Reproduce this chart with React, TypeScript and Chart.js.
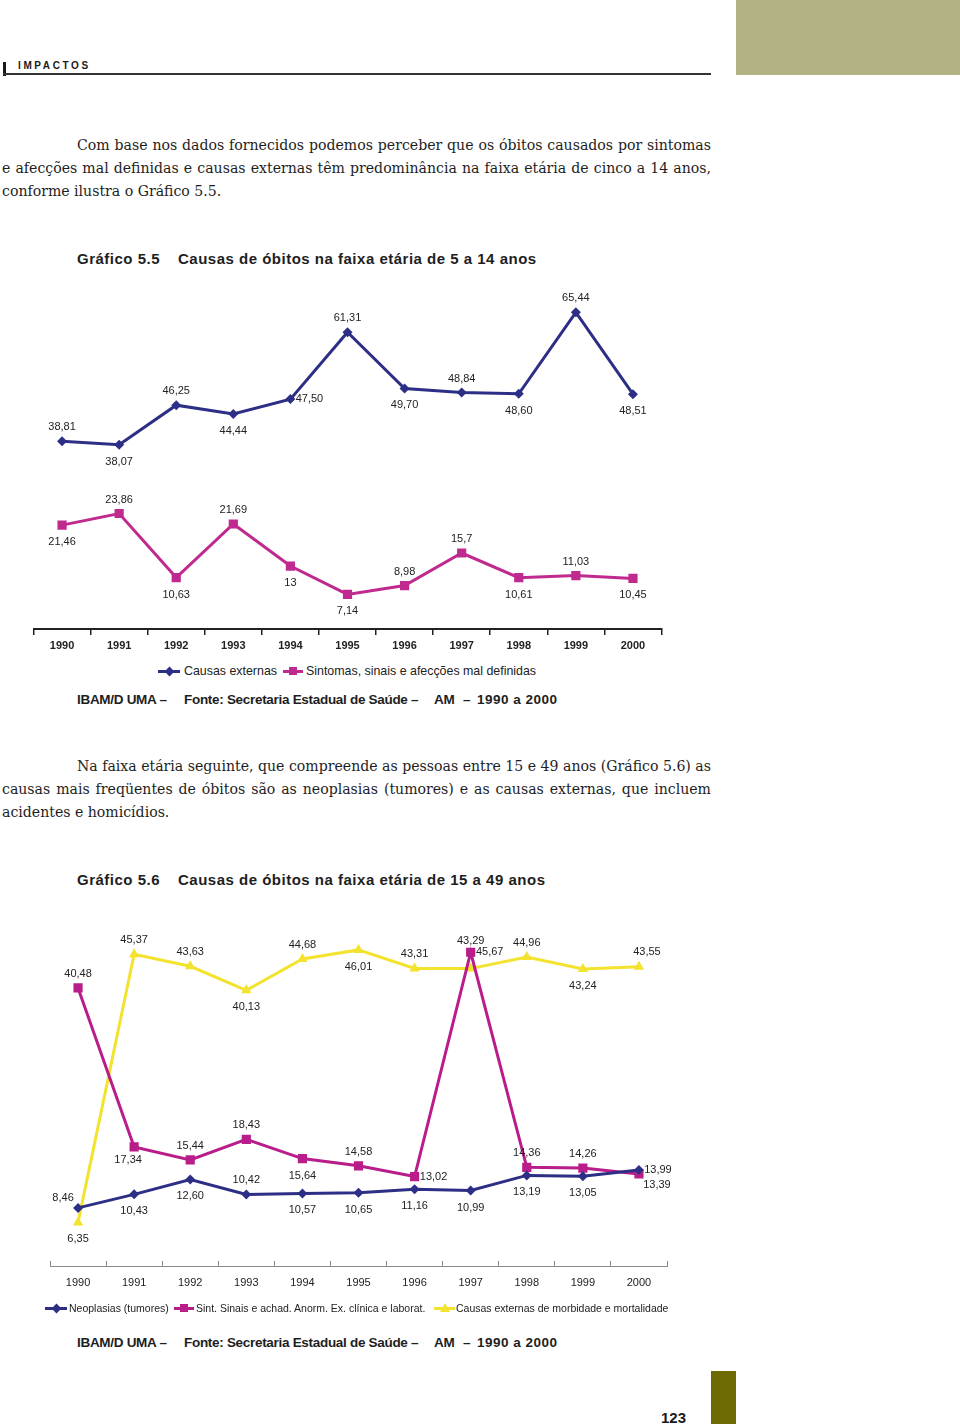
import React, { useEffect, useRef } from 'react';
import { Chart, registerables } from 'chart.js';

Chart.register(...registerables);

// ---------- data ----------
const years = ['1990', '1991', '1992', '1993', '1994', '1995', '1996', '1997', '1998', '1999', '2000'];

// Gráfico 5.5 (5 a 14 anos)
const g55Externas = ['38,81', '38,07', '46,25', '44,44', '47,50', '61,31', '49,70', '48,84', '48,60', '65,44', '48,51'];
const g55Sintomas = ['21,46', '23,86', '10,63', '21,69', '13', '7,14', '8,98', '15,7', '10,61', '11,03', '10,45'];

// Gráfico 5.6 (15 a 49 anos)
const g56Neoplasias = ['8,46', '10,43', '12,60', '10,42', '10,57', '10,65', '11,16', '10,99', '13,19', '13,05', '13,99'];
const g56Sintomas = ['40,48', '17,34', '15,44', '18,43', '15,64', '14,58', '13,02', '45,67', '14,36', '14,26', '13,39'];
const g56Externas = ['6,35', '45,37', '43,63', '40,13', '44,68', '46,01', '43,31', '43,29', '44,96', '43,24', '43,55'];

// label placement codes (style only)
const g55ExternasPos = ['a', 'b', 'a', 'b', 'r', 'a', 'b', 'a', 'b', 'a', 'b'];
const g55SintomasPos = ['b', 'a', 'b', 'a', 'b', 'b', 'a', 'a', 'b', 'a', 'b'];
const g56NeoplasiasPos = ['l', 'b', 'b', 'a', 'b', 'b', 'b', 'b', 'b', 'b', 'r'];
const g56SintomasPos = ['a', 'bl', 'a', 'a', 'b', 'a', 'r', 'r', 'a', 'a', 'rb'];
const g56ExternasPos = ['b', 'a', 'a', 'b', 'a', 'b', 'a', 'aa', 'a', 'b', 'ar'];

const OFFS: Record<string, [number, number]> = {
  a: [0, -14],
  b: [0, 17],
  r: [19, 0],
  l: [-15, -10],
  aa: [0, -28],
  rb: [18, 11],
  bl: [-6, 13],
  ar: [8, -15],
};

const NAVY = '#2d2f86';
const MAGENTA1 = '#c02a8e';
const MAGENTA2 = '#b81d8a';
const YELLOW = '#f3e22e';
const SANS = '"Liberation Sans", Arial, sans-serif';
const SERIF = '"DejaVu Serif", "Liberation Serif", serif';

const num = (s: string) => parseFloat(s.replace(',', '.'));

const labelPlugin = {
  id: 'pointLabels',
  afterDatasetsDraw(chart: any) {
    const ctx = chart.ctx;
    ctx.save();
    ctx.font = '11px ' + SANS;
    ctx.fillStyle = '#222';
    ctx.textAlign = 'center';
    ctx.textBaseline = 'middle';
    chart.data.datasets.forEach((ds: any, di: number) => {
      const meta = chart.getDatasetMeta(di);
      meta.data.forEach((pt: any, i: number) => {
        const [dx, dy] = OFFS[ds.labelPos[i]];
        ctx.fillText(ds.labelText[i], pt.x + dx, pt.y + dy);
      });
    });
    ctx.restore();
  },
};

function Legend({ items, top, size }: { items: { x: number; tx: number; w: number; color: string; shape: string; text: string }[]; top: number; size: number }) {
  return (
    <>
      {items.map((it, i) => (
        <React.Fragment key={i}>
          <div style={{ position: 'absolute', left: it.x, top: top - 1.5, width: it.w, height: 3, background: it.color }} />
          {it.shape === 'diamond' && (
            <div style={{ position: 'absolute', left: it.x + it.w / 2 - 3.5, top: top - 3.5, width: 7, height: 7, background: it.color, transform: 'rotate(45deg)' }} />
          )}
          {it.shape === 'square' && (
            <div style={{ position: 'absolute', left: it.x + it.w / 2 - 4, top: top - 4, width: 8, height: 8, background: it.color }} />
          )}
          {it.shape === 'triangle' && (
            <div style={{ position: 'absolute', left: it.x + it.w / 2 - 5, top: top - 5, width: 0, height: 0, borderLeft: '5px solid transparent', borderRight: '5px solid transparent', borderBottom: '9px solid ' + it.color }} />
          )}
          <div style={{ position: 'absolute', left: it.tx, top: top - 8, lineHeight: '16px', fontFamily: SANS, fontSize: size, color: '#222', whiteSpace: 'nowrap' }}>{it.text}</div>
        </React.Fragment>
      ))}
    </>
  );
}

function JLine({ left, top, width, text, last }: { left: number; top: number; width: number; text: string; last?: boolean }) {
  return (
    <div
      style={{
        position: 'absolute',
        left,
        top,
        width,
        fontFamily: SERIF,
        fontSize: 14.1,
        lineHeight: '23px',
        color: '#1e1e1e',
        whiteSpace: 'nowrap',
        textAlign: last ? 'left' : 'justify',
        textAlignLast: last ? 'left' : 'justify',
      } as any}
    >
      {text}
    </div>
  );
}

function Heading({ top, num: n, text }: { top: number; num: string; text: string }) {
  const st: any = { position: 'absolute', top: top - 10, lineHeight: '20px', fontFamily: SANS, fontWeight: 'bold', fontSize: 15, letterSpacing: 0.5, color: '#1e1e1e', whiteSpace: 'nowrap' };
  return (
    <>
      <div style={{ ...st, left: 77 }}>{n}</div>
      <div style={{ ...st, left: 178 }}>{text}</div>
    </>
  );
}

function Source({ top }: { top: number }) {
  const st: any = { position: 'absolute', top: top - 9, lineHeight: '18px', fontFamily: SANS, fontWeight: 'bold', fontSize: 13.5, color: '#1e1e1e', whiteSpace: 'nowrap', letterSpacing: -0.3 };
  return (
    <>
      <div style={{ ...st, left: 77 }}>IBAM/D UMA –</div>
      <div style={{ ...st, left: 184 }}>Fonte: Secretaria Estadual de Saúde –</div>
      <div style={{ ...st, left: 434 }}>AM</div>
      <div style={{ ...st, left: 463 }}>–</div>
      <div style={{ ...st, left: 477, letterSpacing: 0.5 }}>1990 a 2000</div>
    </>
  );
}

export default function App() {
  const c1 = useRef<HTMLCanvasElement>(null);
  const c2 = useRef<HTMLCanvasElement>(null);

  useEffect(() => {
    const chart1 = new Chart(c1.current!, {
      type: 'line',
      data: {
        labels: years,
        datasets: [
          {
            label: 'Causas externas',
            data: g55Externas.map(num),
            borderColor: NAVY,
            backgroundColor: NAVY,
            borderWidth: 3,
            pointStyle: 'rectRot',
            pointRadius: 5,
            pointBorderWidth: 0,
            tension: 0,
            labelText: g55Externas,
            labelPos: g55ExternasPos,
          } as any,
          {
            label: 'Sintomas, sinais e afecções mal definidas',
            data: g55Sintomas.map(num),
            borderColor: MAGENTA1,
            backgroundColor: MAGENTA1,
            borderWidth: 3,
            pointStyle: 'rect',
            pointRadius: 6.5,
            pointBorderWidth: 0,
            tension: 0,
            labelText: g55Sintomas,
            labelPos: g55SintomasPos,
          } as any,
        ],
      },
      options: {
        animation: false,
        responsive: false,
        maintainAspectRatio: false,
        layout: { padding: { left: 33.5, right: 298.5, top: 10.2, bottom: 3.8 } },
        plugins: { legend: { display: false }, tooltip: { enabled: false } },
        scales: {
          x: {
            offset: true,
            grid: { offset: true, drawOnChartArea: false, tickLength: 6, color: '#222', lineWidth: 1.5 },
            border: { color: '#222', width: 2 },
            ticks: { padding: 4, color: '#222', font: { family: SANS, size: 11, weight: 'bold' } },
          },
          y: { display: false, min: 0, max: 70 },
        },
      },
      plugins: [labelPlugin],
    } as any);

    const chart2 = new Chart(c2.current!, {
      type: 'line',
      data: {
        labels: years,
        datasets: [
          {
            label: 'Neoplasias (tumores)',
            data: g56Neoplasias.map(num),
            borderColor: NAVY,
            backgroundColor: NAVY,
            borderWidth: 3,
            pointStyle: 'rectRot',
            pointRadius: 5,
            pointBorderWidth: 0,
            tension: 0,
            labelText: g56Neoplasias,
            labelPos: g56NeoplasiasPos,
          } as any,
          {
            label: 'Sint. Sinais e achad. Anorm. Ex. clínica e laborat.',
            data: g56Sintomas.map(num),
            borderColor: MAGENTA2,
            backgroundColor: MAGENTA2,
            borderWidth: 3,
            pointStyle: 'rect',
            pointRadius: 6.5,
            pointBorderWidth: 0,
            tension: 0,
            labelText: g56Sintomas,
            labelPos: g56SintomasPos,
          } as any,
          {
            label: 'Causas externas de morbidade e mortalidade',
            data: g56Externas.map(num),
            borderColor: YELLOW,
            backgroundColor: YELLOW,
            borderWidth: 3,
            pointStyle: 'triangle',
            pointRadius: 6,
            pointBorderWidth: 0,
            tension: 0,
            labelText: g56Externas,
            labelPos: g56ExternasPos,
          } as any,
        ],
      },
      options: {
        animation: false,
        responsive: false,
        maintainAspectRatio: false,
        layout: { padding: { left: 50, right: 293, top: 22.5, bottom: 5.8 } },
        plugins: { legend: { display: false }, tooltip: { enabled: false } },
        scales: {
          x: {
            offset: true,
            grid: { offset: true, drawOnChartArea: false, tickLength: -5, color: '#8a8a8a', lineWidth: 1 },
            border: { color: '#8a8a8a', width: 1 },
            ticks: { padding: 15, color: '#222', font: { family: SANS, size: 11 } },
          },
          y: { display: false, min: 0, max: 50 },
        },
      },
      plugins: [labelPlugin],
    } as any);

    return () => {
      chart1.destroy();
      chart2.destroy();
    };
  }, []);

  return (
    <div style={{ position: 'absolute', left: 0, top: 0, width: 960, height: 1428, background: '#fff', overflow: 'hidden' }}>
      {/* header */}
      <div style={{ position: 'absolute', left: 736, top: 0, width: 224, height: 75, background: '#b3b283' }} />
      <div style={{ position: 'absolute', left: 3, top: 62, width: 3, height: 14, background: '#1a1a1a' }} />
      <div style={{ position: 'absolute', left: 3, top: 73, width: 708, height: 2, background: '#333' }} />
      <div style={{ position: 'absolute', left: 18, top: 60, lineHeight: '12px', fontFamily: SANS, fontWeight: 'bold', fontSize: 10, letterSpacing: 2.6, color: '#1a1a1a' }}>IMPACTOS</div>

      {/* paragraph 1 */}
      <JLine left={77} top={133.5} width={634} text="Com base nos dados fornecidos podemos perceber que os óbitos causados por sintomas" />
      <JLine left={2} top={156.5} width={709} text="e afecções mal definidas e causas externas têm predominância na faixa etária de cinco a 14 anos," />
      <JLine left={2} top={179.5} width={709} text="conforme ilustra o Gráfico 5.5." last />

      <Heading top={259} num="Gráfico 5.5" text="Causas de óbitos na faixa etária de 5 a 14 anos" />

      <canvas ref={c1} width={960} height={380} style={{ position: 'absolute', left: 0, top: 280, width: 960, height: 380 }} />

      <Legend
        top={671}
        size={12.4}
        items={[
          { x: 158, tx: 184, w: 22, color: NAVY, shape: 'diamond', text: 'Causas externas' },
          { x: 283, tx: 306, w: 20, color: MAGENTA1, shape: 'square', text: 'Sintomas, sinais e afecções mal definidas' },
        ]}
      />
      <Source top={700} />

      {/* paragraph 2 */}
      <JLine left={77} top={754.5} width={634} text="Na faixa etária seguinte, que compreende as pessoas entre 15 e 49 anos (Gráfico 5.6) as" />
      <JLine left={2} top={777.5} width={709} text="causas mais freqüentes de óbitos são as neoplasias (tumores) e as causas externas, que incluem" />
      <JLine left={2} top={800.5} width={709} text="acidentes e homicídios." last />

      <Heading top={880} num="Gráfico 5.6" text="Causas de óbitos na faixa etária de 15 a 49 anos" />

      <canvas ref={c2} width={960} height={410} style={{ position: 'absolute', left: 0, top: 900, width: 960, height: 410 }} />

      <Legend
        top={1308}
        size={10.5}
        items={[
          { x: 45, tx: 69, w: 22, color: NAVY, shape: 'diamond', text: 'Neoplasias (tumores)' },
          { x: 174, tx: 196, w: 20, color: MAGENTA2, shape: 'square', text: 'Sint. Sinais e achad. Anorm. Ex. clínica e laborat.' },
          { x: 434, tx: 456, w: 21, color: YELLOW, shape: 'triangle', text: 'Causas externas de morbidade e mortalidade' },
        ]}
      />
      <Source top={1343} />

      {/* footer */}
      <div style={{ position: 'absolute', left: 661, top: 1408, lineHeight: '20px', fontFamily: SANS, fontWeight: 'bold', fontSize: 15, color: '#1a1a1a' }}>123</div>
      <div style={{ position: 'absolute', left: 711, top: 1371, width: 25, height: 53, background: '#6e6b04' }} />
    </div>
  );
}
